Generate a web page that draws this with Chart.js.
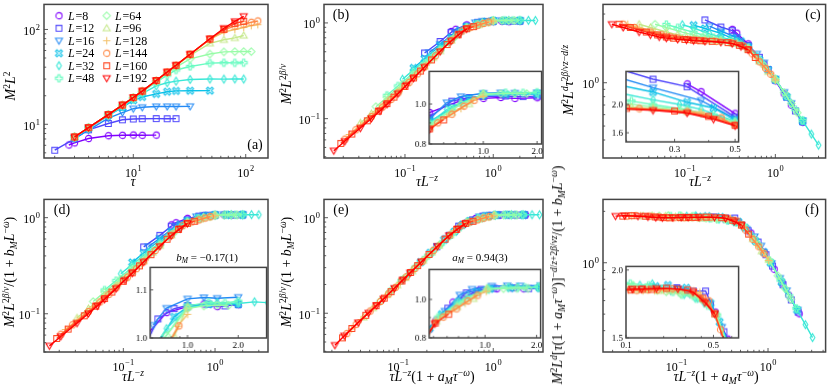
<!DOCTYPE html>
<html><head><meta charset="utf-8">
<script src="https://cdn.jsdelivr.net/npm/chart.js@4.4.1/dist/chart.umd.min.js"></script>
<style>
html,body{margin:0;padding:0;background:#fff;}
body{width:830px;height:389px;position:relative;overflow:hidden;}
canvas{position:absolute;display:block;}
.t{position:absolute;white-space:nowrap;font-family:"Liberation Serif","DejaVu Serif",serif;color:#000;line-height:1;}
.t i{font-style:italic;}
.t sup{font-size:68%;position:relative;top:-0.5em;vertical-align:baseline;}
.t sub{font-size:68%;position:relative;top:0.3em;vertical-align:baseline;}
</style></head><body>
<script>
// ---------------- data ----------------
const TAU = [2, 2.67, 3, 4, 6, 8, 10, 12, 16, 20, 24, 32, 48, 64, 80, 96, 112, 128];
const SIZES = [8, 12, 16, 24, 32, 48, 64, 96, 128, 144, 160, 192];
// M^2 L^2 for each system size, aligned with TAU (null: no point)
const M2L2_L8   = [null, 6.05, 6.37, 7.08, 7.57, 7.66, 7.70, 7.66, 7.69, null, null, null, null, null, null, null, null, null];
const M2L2_L12  = [5.33, null, 7.03, 8.75, 10.2, 11.15, 11.38, 11.45, 11.48, 11.44, 11.47, null, null, null, null, null, null, null];
const M2L2_L16  = [null, null, 7.12, 8.68, 11.6, 13.3, 14.6, 15.1, 15.38, 15.42, 15.4, 15.43, null, null, null, null, null, null];
const M2L2_L24  = [null, null, 7.24, 9.06, 12.4, 15.1, 17.9, 19.4, 20.9, 22.05, 22.5, 22.6, 22.62, null, null, null, null, null];
const M2L2_L32  = [null, null, 7.29, 9.13, 12.3, 15.4, 18.4, 21.1, 25.4, 27.4, 28.5, 29.7, 30.0, 29.95, 30.05, 30.0, null, null];
const M2L2_L48  = [null, null, 7.32, 9.17, 12.6, 15.8, 18.9, 21.9, 27.8, 33.0, 37.4, 40.7, 44.2, 44.5, 44.45, 44.6, null, null];
const M2L2_L64  = [null, null, 7.35, 9.21, 12.63, 15.9, 19.05, 22.2, 28.4, 34.5, 40.0, 49.0, 55.1, 58.1, 58.4, 58.5, 58.45, null];
const M2L2_L96  = [null, null, 7.35, 9.21, 12.66, 15.95, 19.1, 22.4, 28.8, 35.2, 41.5, 53.4, 71.5, 77.8, 81.45, 86.3, null, null];
const M2L2_L128 = [null, null, 7.35, 9.21, 12.66, 15.95, 19.12, 22.4, 28.85, 35.3, 41.7, 54.5, 78.5, 94.0, 100.0, 104.8, 109.7, 112.3];
const M2L2_L144 = [null, null, 7.35, 9.21, 12.66, 15.95, 19.13, 22.4, 28.9, 35.4, 41.8, 54.7, 78.9, 99.2, 108.4, 113.8, 119.0, 123.0];
const M2L2_L160 = [null, null, 7.35, 9.21, 12.66, 15.95, 19.14, 22.38, 28.95, 35.5, 41.9, 54.8, 79.3, 100.3, 116.0, 122.0, null, null];
const M2L2_L192 = [null, null, 7.35, 9.21, 12.66, 15.95, 19.14, 22.38, 28.96, 35.56, 41.96, 54.8, 79.7, 103.0, 121.6, 137.7, null, null];
const M2L2 = [M2L2_L8, M2L2_L12, M2L2_L16, M2L2_L24, M2L2_L32, M2L2_L48, M2L2_L64, M2L2_L96, M2L2_L128, M2L2_L144, M2L2_L160, M2L2_L192];
const MARKERS = ['o', 's', 'v', 'X', 'd', 'P', 'D', '^', '+', 'o', 's', 'v'];

// scaling exponents / fitted corrections used in the collapse panels
const Z = 1, D = 2, TWO_BETA_NU = 1.036, OMEGA = 0.83, A_M = 0.94, B_M = -0.17;

// inset tick labels
const INSET_B_X = [[1, '1.0'], [2, '2.0']], INSET_B_Y = [[0.8, '0.8'], [1, '1.0']];
const INSET_C_X = [[0.3, '0.3'], [0.5, '0.5']], INSET_C_Y = [[1.6, '1.6'], [2, '2.0']];
const INSET_D_X = [[1, '1.0'], [2, '2.0']], INSET_D_Y = [[1.0, '1.0'], [1.1, '1.1']];
const INSET_E_X = [[1, '1.0'], [2, '2.0']], INSET_E_Y = [[0.8, '0.8'], [1, '1.0']];
const INSET_F_X = [[0.1, '0.1'], [0.5, '0.5']], INSET_F_Y = [[1.5, '1.5'], [2, '2.0']];

// ---------------- styling ----------------
function rainbow(f) {
  const r = Math.min(1, Math.abs(2 * f - 0.5)), g = Math.sin(Math.PI * f), b = Math.cos(Math.PI * f / 2);
  return `rgb(${Math.round(255 * r)},${Math.round(255 * Math.max(0, g))},${Math.round(255 * Math.max(0, b))})`;
}
const COLORS = SIZES.map((_, i) => rainbow(i / (SIZES.length - 1)));
function makeMarker(shape, color) {
  const s = 13, m = s / 2, c = document.createElement('canvas');
  c.width = c.height = s;
  const g = c.getContext('2d');
  g.strokeStyle = color; g.lineWidth = 1.05; g.beginPath();
  const poly = (pts) => { g.moveTo(m + pts[0][0], m + pts[0][1]); for (const p of pts.slice(1)) g.lineTo(m + p[0], m + p[1]); g.closePath(); };
  const plus = (w, r, rot) => {
    const base = [[-w, -r], [w, -r], [w, -w], [r, -w], [r, w], [w, w], [w, r], [-w, r], [-w, w], [-r, w], [-r, -w], [-w, -w]];
    const ca = Math.cos(rot), sa = Math.sin(rot);
    return base.map(([x, y]) => [x * ca - y * sa, x * sa + y * ca]);
  };
  switch (shape) {
    case 'o': g.arc(m, m, 3.1, 0, 2 * Math.PI); break;
    case 's': g.rect(m - 2.9, m - 2.9, 5.8, 5.8); break;
    case 'v': poly([[-3.5, -2.5], [3.5, -2.5], [0, 3.5]]); break;
    case '^': poly([[-3.5, 2.5], [3.5, 2.5], [0, -3.5]]); break;
    case 'D': poly([[0, -3.7], [3.7, 0], [0, 3.7], [-3.7, 0]]); break;
    case 'd': poly([[0, -3.9], [2.4, 0], [0, 3.9], [-2.4, 0]]); break;
    case 'X': poly(plus(1.0, 3.9, Math.PI / 4)); break;
    case 'P': poly(plus(1.15, 3.5, 0)); break;
    case '+': g.moveTo(m - 3.7, m); g.lineTo(m + 3.7, m); g.moveTo(m, m - 3.7); g.lineTo(m, m + 3.7); break;
  }
  g.stroke();
  return c;
}
const MARKER_IMGS = MARKERS.map((s, i) => makeMarker(s, COLORS[i]));

// ---------------- panel coordinates ----------------
const TRANSFORMS = {
  a: (t, L, m) => [t, m],
  b: (t, L, m) => [t / L ** Z, m * L ** (TWO_BETA_NU - D)],
  c: (t, L, m) => [t / L ** Z, m * t ** ((TWO_BETA_NU - D) / Z)],
  d: (t, L, m) => [t / L ** Z, m * L ** (TWO_BETA_NU - D) / (1 + B_M * L ** -OMEGA)],
  e: (t, L, m) => { const ts = t * (1 + A_M * t ** -OMEGA); return [ts / L ** Z, m * L ** (TWO_BETA_NU - D) / (1 + B_M * L ** -OMEGA)]; },
  f: (t, L, m) => { const ts = t * (1 + A_M * t ** -OMEGA); return [ts / L ** Z, m * ts ** ((TWO_BETA_NU - D) / Z) / (1 + B_M * L ** -OMEGA)]; }
};
function datasets(key) {
  return SIZES.map((L, i) => {
    const pts = [];
    TAU.forEach((t, k) => { const m = M2L2[i][k]; if (m != null) { const [x, y] = TRANSFORMS[key](t, L, m); pts.push({ x, y }); } });
    return { data: pts, borderColor: COLORS[i], backgroundColor: 'transparent', borderWidth: 1.4,
             pointStyle: MARKER_IMGS[i], pointRadius: 3, pointHoverRadius: 3, tension: 0, fill: false };
  }).reverse();
}

// ---------------- decoration plugin (ticks, frame, tick labels, legend) ----------------
const SPEC = {};
const FONT = '"Liberation Serif","DejaVu Serif",serif';
function logTicks(lo, hi) {
  const major = [], minor = [];
  for (let e = Math.floor(Math.log10(lo)) - 1; e <= Math.ceil(Math.log10(hi)); e++) {
    for (let k = 1; k <= 9; k++) {
      const v = k * Math.pow(10, e);
      if (v >= lo * 0.999 && v <= hi * 1.001) (k === 1 ? major : minor).push(v);
    }
  }
  return { major, minor };
}
function drawLabel(ctx, txt, exp, x, y, mode, size) {
  ctx.font = size + 'px ' + FONT;
  const w1 = ctx.measureText(txt).width;
  const es = size * 0.7;
  let w2 = 0;
  if (exp) { ctx.font = es + 'px ' + FONT; w2 = ctx.measureText(exp).width + 0.6; }
  const W = w1 + w2;
  const x0 = mode === 'x' ? x - W / 2 : x - W;
  const base = mode === 'x' ? y : y + size * 0.34 + (exp ? size * 0.12 : 0);
  ctx.fillStyle = '#000'; ctx.textAlign = 'left'; ctx.textBaseline = 'alphabetic';
  ctx.font = size + 'px ' + FONT; ctx.fillText(txt, x0, base);
  if (exp) { ctx.font = es + 'px ' + FONT; ctx.fillText(exp, x0 + w1 + 0.6, base - size * 0.42); }
}
const deco = {
  id: 'deco',
  beforeDatasetsDraw(chart) {
    const s = SPEC[chart.canvas.id], a = chart.chartArea, ctx = chart.ctx;
    if (s.inset) { ctx.save(); ctx.fillStyle = '#fff'; ctx.fillRect(a.left, a.top, a.right - a.left, a.bottom - a.top); ctx.restore(); }
  },
  afterDraw(chart) {
    const s = SPEC[chart.canvas.id], a = chart.chartArea, ctx = chart.ctx;
    const xs = chart.scales.x, ys = chart.scales.y;
    ctx.save();
    ctx.strokeStyle = '#333'; ctx.lineWidth = 0.8;
    const maj = s.inset ? 3 : 4, mnr = s.inset ? 1.8 : 2.2;
    const tick = (x1, y1, x2, y2) => { ctx.beginPath(); ctx.moveTo(x1, y1); ctx.lineTo(x2, y2); ctx.stroke(); };
    s.xMajor.forEach(v => { const p = xs.getPixelForValue(v); tick(p, a.bottom, p, a.bottom - maj); });
    s.xMinor.forEach(v => { const p = xs.getPixelForValue(v); tick(p, a.bottom, p, a.bottom - mnr); });
    s.yMajor.forEach(v => { const p = ys.getPixelForValue(v); tick(a.left, p, a.left + maj, p); });
    s.yMinor.forEach(v => { const p = ys.getPixelForValue(v); tick(a.left, p, a.left + mnr, p); });
    ctx.strokeStyle = '#444'; ctx.lineWidth = 1.5;
    ctx.strokeRect(a.left, a.top, a.right - a.left, a.bottom - a.top);
    const fs = s.inset ? 9 : 12;
    s.xLabels.forEach(([v, t, e]) => drawLabel(ctx, t, e, xs.getPixelForValue(v), a.bottom + (s.inset ? 10 : 18.5), 'x', fs));
    s.yLabels.forEach(([v, t, e]) => drawLabel(ctx, t, e, a.left - (s.inset ? 3 : 4), ys.getPixelForValue(v), 'y', fs));
    if (s.legend) {
      const ox = chart.canvas.offsetLeft, oy = chart.canvas.offsetTop;
      SIZES.forEach((L, i) => {
        const col = i < 6 ? 0 : 1, row = i % 6;
        const mx = (col ? 106.7 : 59) - ox, my = 15.7 + row * 12.5 - oy;
        ctx.drawImage(MARKER_IMGS[i], mx - 6.5, my - 6.5);
        const tx = (col ? 115 : 68) - ox;
        ctx.fillStyle = '#000'; ctx.textBaseline = 'alphabetic'; ctx.textAlign = 'left';
        ctx.font = 'italic 12px ' + FONT; ctx.fillText('L', tx, my + 4.2);
        const wl = ctx.measureText('L').width;
        ctx.font = '12px ' + FONT; ctx.fillText('=' + L, tx + wl + 0.8, my + 4.2);
      });
    }
    ctx.restore();
  }
};

function makeChart(id, cell, frame, xr, yr, key, extra) {
  const cv = document.createElement('canvas');
  cv.id = id; cv.width = cell.w; cv.height = cell.h;
  Object.assign(cv.style, { left: cell.x + 'px', top: cell.y + 'px', width: cell.w + 'px', height: cell.h + 'px' });
  document.body.appendChild(cv);
  const xt = logTicks(xr[0], xr[1]), yt = logTicks(yr[0], yr[1]);
  const decLabel = v => [v, '10', (Math.round(Math.log10(v)) < 0 ? '\u2212' : '') + Math.abs(Math.round(Math.log10(v)))];
  const spec = Object.assign({
    xMajor: xt.major, xMinor: xt.minor, yMajor: yt.major, yMinor: yt.minor,
    xLabels: xt.major.map(decLabel), yLabels: yt.major.map(decLabel)
  }, extra || {});
  if (spec.inset) {
    spec.xLabels = spec.xl.map(([v, t]) => [v, t, null]);
    spec.yLabels = spec.yl.map(([v, t]) => [v, t, null]);
    spec.xMajor = spec.xl.map(p => p[0]); spec.yMajor = spec.yl.map(p => p[0]);
    spec.xMinor = xt.major.concat(xt.minor).filter(v => !spec.xMajor.some(u => Math.abs(u - v) < 1e-9));
    spec.yMinor = spec.ymin || [];
  }
  SPEC[id] = spec;
  new Chart(cv, {
    type: 'line',
    data: { datasets: datasets(key) },
    options: {
      responsive: false, animation: false, devicePixelRatio: 1, events: [],
      layout: { padding: { left: frame.x - cell.x, top: frame.y - cell.y, right: cell.x + cell.w - frame.r, bottom: cell.y + cell.h - frame.b } },
      plugins: { legend: { display: false }, tooltip: { enabled: false } },
      scales: {
        x: { type: 'logarithmic', min: xr[0], max: xr[1], display: false },
        y: { type: 'logarithmic', min: yr[0], max: yr[1], display: false }
      }
    },
    plugins: [deco]
  });
}
function inset(id, fr, xr, yr, key, xl, yl, ymin) {
  const cell = { x: fr.x - 26, y: fr.y - 4, w: fr.r - fr.x + 30, h: fr.b - fr.y + 18 };
  makeChart(id, cell, fr, xr, yr, key, { inset: true, xl, yl, ymin });
}

// main panels
makeChart('ca', { x: 0, y: 0, w: 275, h: 195 }, { x: 44, y: 3, r: 268, b: 158 }, [1.606, 157.8], [4.41, 183.8], 'a', { legend: true });
makeChart('cb', { x: 275, y: 0, w: 280, h: 195 }, { x: 324, y: 3, r: 543, b: 158 }, [0.0121, 3.66], [0.0388, 1.562], 'b');
makeChart('cc', { x: 555, y: 0, w: 275, h: 195 }, { x: 603, y: 3, r: 826, b: 158 }, [0.01247, 3.59], [0.334, 3.50], 'c');
makeChart('cd', { x: 0, y: 195, w: 275, h: 194 }, { x: 44, y: 197.5, r: 268, b: 352 }, [0.01364, 3.78], [0.040, 1.549], 'd');
makeChart('ce', { x: 275, y: 195, w: 280, h: 194 }, { x: 324, y: 197.5, r: 543, b: 352 }, [0.01652, 3.34], [0.0393, 1.554], 'e');
makeChart('cf', { x: 555, y: 195, w: 275, h: 194 }, { x: 603, y: 197.5, r: 826, b: 352 }, [0.0157, 4.26], [0.333, 2.35], 'f');
// insets
inset('ib', { x: 429, y: 71, r: 541.7, b: 144.3 }, [0.498, 2.12], [0.8, 1.2], 'b', INSET_B_X, INSET_B_Y, [0.9]);
inset('ic', { x: 626, y: 71, r: 739.3, b: 141.7 }, [0.199, 0.515], [1.49, 2.59], 'c', INSET_C_X, INSET_C_Y, []);
inset('id', { x: 150, y: 266.7, r: 266.7, b: 337.7 }, [0.63, 2.95], [1.0, 1.15], 'd', INSET_D_X, INSET_D_Y, []);
inset('ie', { x: 429, y: 269, r: 540.7, b: 337.7 }, [0.472, 2.11], [0.8, 1.19], 'e', INSET_E_X, INSET_E_Y, [0.9]);
inset('if', { x: 626, y: 266, r: 739.3, b: 337.7 }, [0.1, 0.794], [1.5, 2.03], 'f', INSET_F_X, INSET_F_Y, []);

// ---------------- text (HTML) ----------------
function txt(html, cx, cy, size, rot) {
  const d = document.createElement('div');
  d.className = 't'; d.innerHTML = html;
  Object.assign(d.style, { left: cx + 'px', top: cy + 'px', fontSize: size + 'px',
    transform: 'translate(-50%,-50%)' + (rot ? ' rotate(-90deg)' : '') });
  document.body.appendChild(d);
}
const M2 = '<i>M</i><sup>2</sup>';
const CORR_L = '/(1 + <i>b</i><sub><i>M</i></sub><i>L</i><sup>\u2212<i>ω</i></sup>)';
const XL1 = '<i>τL</i><sup>\u2212<i>z</i></sup>';
const XL2 = '<i>τL</i><sup>\u2212<i>z</i></sup>(1 + <i>a</i><sub><i>M</i></sub><i>τ</i><sup>\u2212<i>ω</i></sup>)';
txt(M2 + '<i>L</i><sup>2</sup>', 11, 86, 14, true);
txt(M2 + '<i>L</i><sup>2<i>β</i>/<i>ν</i></sup>', 287, 84, 14, true);
txt(M2 + '<i>L</i><sup><i>d</i></sup><i>τ</i><sup>2<i>β</i>/<i>νz</i>\u2212<i>d</i>/<i>z</i></sup>', 569, 80, 14, true);
txt(M2 + '<i>L</i><sup>2<i>β</i>/<i>ν</i></sup>' + CORR_L, 10, 272, 14, true);
txt(M2 + '<i>L</i><sup>2<i>β</i>/<i>ν</i></sup>' + CORR_L, 287, 272, 14, true);
txt(M2 + '<i>L</i><sup><i>d</i></sup>[<i>τ</i>(1 + <i>a</i><sub><i>M</i></sub><i>τ</i><sup>\u2212<i>ω</i></sup>)]<sup>\u2212<i>d</i>/<i>z</i>+2<i>β</i>/<i>νz</i></sup>' + CORR_L, 558, 275, 14, true);
txt('<i>τ</i>', 133, 182, 14);
txt(XL1, 427, 182, 14);
txt(XL1, 700, 182, 14);
txt(XL1, 133, 377, 14);
txt(XL2, 432, 377, 14);
txt(XL2, 716, 377, 14);
txt('(a)', 255, 145, 14); txt('(b)', 341, 15, 14); txt('(c)', 813, 15, 14);
txt('(d)', 62, 210, 14); txt('(e)', 341, 210, 14); txt('(f)', 812, 210, 14);
txt('<i>b</i><sub><i>M</i></sub> = \u22120.17(1)', 207, 257, 11);
txt('<i>a</i><sub><i>M</i></sub> = 0.94(3)', 480, 257, 11);
</script>
</body></html>
